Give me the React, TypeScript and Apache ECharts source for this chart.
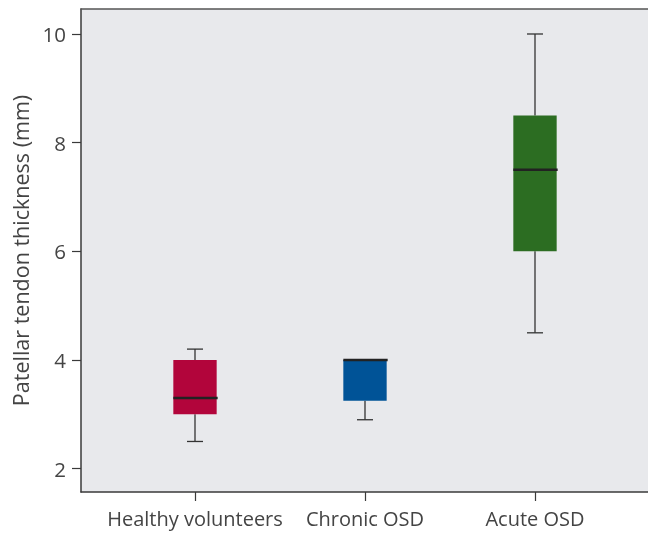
import React, { useEffect, useRef } from "react";
import * as echarts from "echarts";

const categories = ["Healthy volunteers", "Chronic OSD", "Acute OSD"];
// [min, Q1, median, Q3, max]
const boxValues = [
  [2.5, 3.0, 3.3, 4.0, 4.2],
  [2.9, 3.25, 4.0, 4.0, 4.0],
  [4.5, 6.0, 7.5, 8.5, 10.0],
];
const boxColors = ["#b2053b", "#005397", "#2c6d22"];
const yTicks = [2, 4, 6, 8, 10];
const yTitle = "Patellar tendon thickness (mm)";

const FONT = "'Open Sans', 'Noto Sans', sans-serif";
const TEXT = "#444444";
const AXIS = "#3a3a3a";

export default function App() {
  const ref = useRef<HTMLDivElement>(null);
  useEffect(() => {
    if (!ref.current) return;
    const chart = echarts.init(ref.current, null, { renderer: "svg" });
    const yMin = 1.57;
    const yMax = 10.46;
    const data = boxValues.map((v, i) => [i, ...v, i]);
    chart.setOption({
      animation: false,
      textStyle: { fontFamily: FONT },
      grid: [
        { left: 81, width: 620, top: 9, bottom: 43, show: true, backgroundColor: "#e8e9ec", borderWidth: 0 },
        { left: 110, width: 510, top: 9, bottom: 43 },
      ],
      xAxis: [
        {
          type: "value", gridIndex: 0, position: "bottom", min: 0, max: 1,
          axisLine: { show: true, lineStyle: { color: AXIS, width: 1.5 } },
          axisTick: { show: false }, axisLabel: { show: false }, splitLine: { show: false },
        },
        {
          type: "value", gridIndex: 0, position: "top", min: 0, max: 1,
          axisLine: { show: true, lineStyle: { color: "#555", width: 1.5 } },
          axisTick: { show: false }, axisLabel: { show: false }, splitLine: { show: false },
        },
        {
          type: "category", gridIndex: 1, data: categories, position: "bottom",
          axisLine: { show: false },
          axisTick: { show: true, alignWithLabel: true, length: 9, lineStyle: { color: AXIS, width: 1.2 } },
          axisLabel: { fontSize: 20, color: TEXT, margin: 16, fontFamily: FONT, interval: 0 },
          splitLine: { show: false },
        },
      ],
      yAxis: [
        {
          type: "value", gridIndex: 0, min: yMin, max: yMax,
          name: yTitle, nameLocation: "middle", nameGap: 40,
          nameTextStyle: { fontSize: 21.5, color: TEXT, fontFamily: FONT },
          axisLine: { show: true, lineStyle: { color: AXIS, width: 1.5 } },
          axisTick: { show: true, length: 9, customValues: yTicks, lineStyle: { color: AXIS, width: 1.2 } },
          axisLabel: { fontSize: 20.5, color: TEXT, margin: 15, customValues: yTicks, fontFamily: FONT },
          splitLine: { show: false },
        },
        {
          type: "value", gridIndex: 1, min: yMin, max: yMax, show: false, splitLine: { show: false },
        },
      ],
      series: [
        {
          type: "custom",
          xAxisIndex: 2,
          yAxisIndex: 1,
          data,
          encode: { x: 0, y: [1, 2, 3, 4, 5] },
          renderItem: (params: any, api: any) => {
            const idx = api.value(0);
            const vMin = api.value(1), q1 = api.value(2), med = api.value(3), q3 = api.value(4), vMax = api.value(5);
            const color = boxColors[api.value(6)];
            const band = api.size([1, 0])[0];
            const bw = band * 0.255;
            const cw = bw * 0.37;
            const pMin = api.coord([idx, vMin]);
            const pQ1 = api.coord([idx, q1]);
            const pMed = api.coord([idx, med]);
            const pQ3 = api.coord([idx, q3]);
            const pMax = api.coord([idx, vMax]);
            const cx = pMed[0];
            const ls = { stroke: "#333", lineWidth: 1.3 };
            const children: any[] = [];
            if (pQ3[1] > pMax[1] + 0.5) {
              children.push({ type: "line", shape: { x1: cx, y1: pMax[1], x2: cx, y2: pQ3[1] }, style: ls });
              children.push({ type: "line", shape: { x1: cx - cw / 2, y1: pMax[1], x2: cx + cw / 2, y2: pMax[1] }, style: ls });
            }
            if (pMin[1] > pQ1[1] + 0.5) {
              children.push({ type: "line", shape: { x1: cx, y1: pQ1[1], x2: cx, y2: pMin[1] }, style: ls });
              children.push({ type: "line", shape: { x1: cx - cw / 2, y1: pMin[1], x2: cx + cw / 2, y2: pMin[1] }, style: ls });
            }
            children.push({
              type: "rect",
              shape: { x: cx - bw / 2, y: pQ3[1], width: bw, height: pQ1[1] - pQ3[1] },
              style: { fill: color },
            });
            children.push({
              type: "line",
              shape: { x1: cx - bw / 2, y1: pMed[1], x2: cx + bw / 2 + 1, y2: pMed[1] },
              style: { stroke: "#222", lineWidth: 2.6 },
            });
            return { type: "group", children };
          },
        },
      ],
    });
    return () => chart.dispose();
  }, []);
  return <div ref={ref} style={{ width: 648, height: 535, position: "fixed", left: 0, top: 0 }} />;
}
